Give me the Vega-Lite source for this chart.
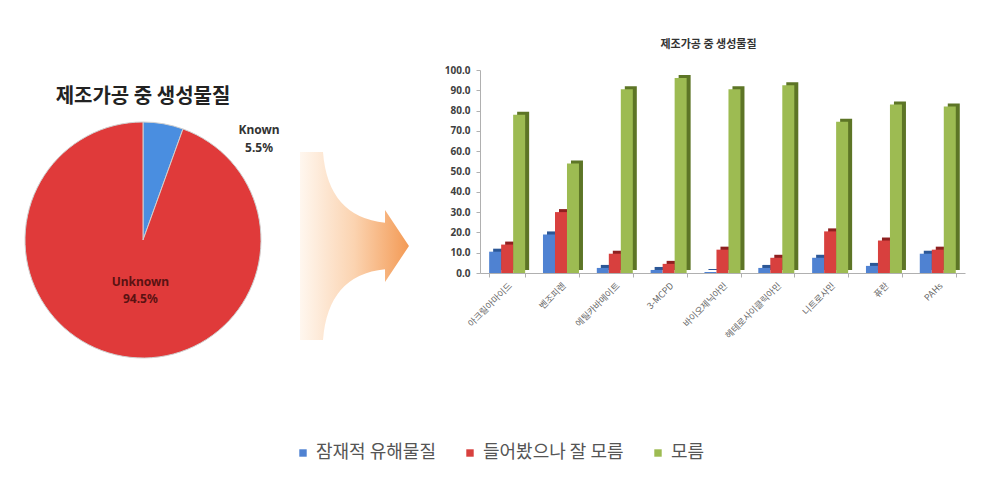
{
  "$schema": "https://vega.github.io/schema/vega-lite/v6.json",
  "background": "white",
  "padding": {"left": 23, "top": 39, "right": 5, "bottom": 5},
  "bounds": "flush",
  "align": "none",
  "spacing": 70,
  "config": {"view": {"stroke": null}, "font": "Noto Sans CJK KR"},
  "datasets": {
    "pie": [
      {"name": "Known", "value": 5.5, "label": "Known\n5.5%"},
      {"name": "Unknown", "value": 94.5, "label": "Unknown\n94.5%"}
    ],
    "arrow": [{"item": "arrow"}],
    "bars": [
      {"물질": "아크릴아마이드", "구분": "잠재적 유해물질", "값": 10.5},
      {"물질": "아크릴아마이드", "구분": "들어봤으나 잘 모름", "값": 14.0},
      {"물질": "아크릴아마이드", "구분": "모름", "값": 78.0},
      {"물질": "벤조피렌", "구분": "잠재적 유해물질", "값": 19.0},
      {"물질": "벤조피렌", "구분": "들어봤으나 잘 모름", "값": 30.0},
      {"물질": "벤조피렌", "구분": "모름", "값": 54.0},
      {"물질": "에틸카바메이트", "구분": "잠재적 유해물질", "값": 2.5},
      {"물질": "에틸카바메이트", "구분": "들어봤으나 잘 모름", "값": 9.5},
      {"물질": "에틸카바메이트", "구분": "모름", "값": 90.5},
      {"물질": "3-MCPD", "구분": "잠재적 유해물질", "값": 1.5},
      {"물질": "3-MCPD", "구분": "들어봤으나 잘 모름", "값": 4.5},
      {"물질": "3-MCPD", "구분": "모름", "값": 96.0},
      {"물질": "바이오제닉아민", "구분": "잠재적 유해물질", "값": 0.5},
      {"물질": "바이오제닉아민", "구분": "들어봤으나 잘 모름", "값": 11.5},
      {"물질": "바이오제닉아민", "구분": "모름", "값": 90.5},
      {"물질": "헤테로사이클릭아민", "구분": "잠재적 유해물질", "값": 2.5},
      {"물질": "헤테로사이클릭아민", "구분": "들어봤으나 잘 모름", "값": 7.5},
      {"물질": "헤테로사이클릭아민", "구분": "모름", "값": 92.5},
      {"물질": "니트로사민", "구분": "잠재적 유해물질", "값": 7.5},
      {"물질": "니트로사민", "구분": "들어봤으나 잘 모름", "값": 20.5},
      {"물질": "니트로사민", "구분": "모름", "값": 74.5},
      {"물질": "퓨란", "구분": "잠재적 유해물질", "값": 3.5},
      {"물질": "퓨란", "구분": "들어봤으나 잘 모름", "값": 16.0},
      {"물질": "퓨란", "구분": "모름", "값": 83.0},
      {"물질": "PAHs", "구분": "잠재적 유해물질", "값": 9.5},
      {"물질": "PAHs", "구분": "들어봤으나 잘 모름", "값": 11.5},
      {"물질": "PAHs", "구분": "모름", "값": 82.0}
    ]
  },
  "hconcat": [
    {
      "width": 174,
      "height": 340,
      "data": {"name": "pie"},
      "title": {"text": "제조가공 중 생성물질", "fontSize": 20, "fontWeight": "bold", "color": "#222222", "offset": -37, "anchor": "middle"},
      "encoding": {
        "theta": {"field": "value", "type": "quantitative", "stack": true}
      },
      "layer": [
        {
          "mark": {"type": "arc", "radius": 118, "stroke": "#d0d0d0", "strokeWidth": 1},
          "encoding": {
            "color": {"field": "name", "type": "nominal", "scale": {"domain": ["Known", "Unknown"], "range": ["#4a8ee0", "#e03a3a"]}, "legend": null}
          }
        },
        {
          "mark": {"type": "text", "radius": 160, "thetaOffset": 0.639, "lineBreak": "\n", "lineHeight": 18, "fontSize": 12, "fontWeight": "bold", "color": "#333333", "font": "Noto Sans"},
          "encoding": {
            "text": {"condition": {"test": "datum.name === 'Known'", "field": "label"}, "value": ""}
          }
        },
        {
          "mark": {"type": "text", "radius": 42, "thetaOffset": -0.11, "lineBreak": "\n", "lineHeight": 17, "fontSize": 12, "fontWeight": "bold", "color": "#5a1212", "font": "Noto Sans"},
          "encoding": {
            "text": {"condition": {"test": "datum.name === 'Unknown'", "field": "label"}, "value": ""}
          }
        }
      ]
    },
    {
      "width": 110,
      "height": 352,
      "data": {"name": "arrow"},
      "mark": {
        "type": "point",
        "filled": true,
        "opacity": 1,
        "strokeWidth": 0,
        "size": 36100,
        "shape": "M-0.579,-0.989L-0.337,-0.989Q-0.284,-0.305 0.316,-0.245L0.316,-0.38L0.568,0L0.316,0.38L0.316,0.245Q-0.284,0.305 -0.337,0.989L-0.579,0.989Z",
        "fill": {"gradient": "linear", "x1": 0, "x2": 1, "y1": 0, "y2": 0, "stops": [{"offset": 0, "color": "#fff7ef"}, {"offset": 0.5, "color": "#fbd3b0"}, {"offset": 1, "color": "#f39a55"}]}
      },
      "encoding": {}
    },
    {
      "width": 485,
      "height": 203,
      "data": {"name": "bars"},
      "title": {"text": "제조가공 중 생성물질", "fontSize": 11, "fontWeight": "bold", "color": "#333333", "offset": 15, "dx": -14, "anchor": "middle"},
      "encoding": {
        "x": {
          "field": "물질", "type": "nominal", "sort": null,
          "scale": {"paddingInner": 0.33, "paddingOuter": 0.17},
          "axis": {"title": null, "labelAngle": -45, "labelFontSize": 9, "labelColor": "#666666", "domainColor": "#b0b0b0", "tickColor": "#b0b0b0", "tickSize": 4, "tickBand": "extent", "labelPadding": 4}
        },
        "y": {
          "field": "값", "type": "quantitative",
          "scale": {"domain": [0, 100]},
          "axis": {"title": null, "values": [0, 10, 20, 30, 40, 50, 60, 70, 80, 90, 100], "format": ".1f", "grid": false, "labelFontSize": 10, "labelFontWeight": "bold", "labelColor": "#404040", "domainColor": "#b0b0b0", "tickColor": "#b0b0b0", "tickSize": 4, "labelPadding": 6, "labelFont": "Noto Sans"}
        }
      },
      "layer": [
        {
          "mark": {"type": "bar", "yOffset": -3},
          "encoding": {
            "xOffset": {"field": "구분", "type": "nominal", "sort": ["잠재적 유해물질", "들어봤으나 잘 모름", "모름"], "scale": {"range": [4, 40]}},
            "fill": {"field": "구분", "type": "nominal", "scale": {"domain": ["잠재적 유해물질", "들어봤으나 잘 모름", "모름"], "range": ["#2c5796", "#8e2020", "#5d7526"]}, "legend": null}
          }
        },
        {
          "mark": {"type": "bar"},
          "encoding": {
            "xOffset": {"field": "구분", "type": "nominal", "sort": ["잠재적 유해물질", "들어봤으나 잘 모름", "모름"], "scale": {"range": [0, 36]}},
            "color": {
              "field": "구분", "type": "nominal",
              "scale": {"domain": ["잠재적 유해물질", "들어봤으나 잘 모름", "모름"], "range": ["#4f82d2", "#d8403e", "#9dbb52"]},
              "legend": {"orient": "none", "legendX": -186, "legendY": 374, "direction": "horizontal", "title": null, "symbolType": "square", "symbolSize": 55, "labelFontSize": 18, "labelColor": "#555555", "columnPadding": 25, "labelFont": "Noto Sans CJK KR"}
            }
          }
        }
      ],
      "resolve": {"scale": {"xOffset": "independent"}}
    }
  ],
  "resolve": {"scale": {"color": "independent"}, "legend": {"color": "independent"}}
}
